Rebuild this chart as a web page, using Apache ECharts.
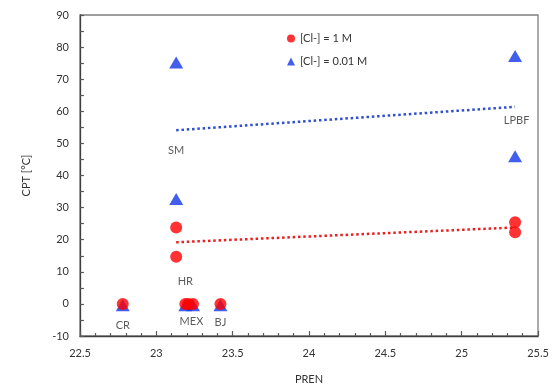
<!DOCTYPE html>
<html>
<head>
<meta charset="utf-8">
<script src="https://cdn.jsdelivr.net/npm/echarts@6/dist/echarts.min.js"></script>
<style>html,body{margin:0;padding:0;background:#fff}#c{width:553px;height:390px}</style>
</head>
<body>
<div id="c"></div>
<script>
// [Cl-] = 1 M (red circles)
const pren1M = [22.78, 23.13, 23.13, 23.19, 23.21, 23.24, 23.42, 25.35, 25.35];
const cpt1M  = [0, 23.8, 14.7, 0, 0, 0, 0, 25.4, 22.3];
// [Cl-] = 0.01 M (blue triangles)
const pren001M = [22.78, 23.13, 23.13, 23.19, 23.24, 23.42, 25.35, 25.35];
const cpt001M  = [-0.4, 75.2, 32.7, -0.4, -0.4, -0.4, 77.2, 46.0];
// trend lines (dotted)
const trend1MX = [23.13, 25.35];
const trend1MY = [19.2, 23.8];
const trend001MX = [23.13, 25.35];
const trend001MY = [54.1, 61.4];
// annotations
const labelNames = ['SM', 'HR', 'CR', 'MEX', 'BJ', 'LPBF'];
const labelX = [23.13, 23.19, 22.78, 23.23, 23.42, 25.36];
const labelY = [47.9, 6.9, -6.7, -5.4, -5.9, 57.2];
// axes
const xMin = 22.5, xMax = 25.5, xStep = 0.5;
const yMin = -10, yMax = 90, yStep = 10;

const FONT = 'Lato';
const TXT = '#333333';
const RED = '#FF0000';
const BLUE = '#1236E8';

const zip = (a, b) => a.map((v, i) => [v, b[i]]);

const chart = echarts.init(document.getElementById('c'));
chart.setOption({
  animation: false,
  textStyle: { fontFamily: FONT },
  grid: { left: 80, right: 15, top: 15, bottom: 50, show: true, borderColor: '#7f7f7f', borderWidth: 1.3 },
  legend: {
    orient: 'vertical', left: 282, top: 28, itemGap: 12,
    itemWidth: 8, itemHeight: 8,
    textStyle: { fontFamily: FONT, fontSize: 11, color: TXT },
    data: [
      { name: '[Cl-] = 1 M', icon: 'circle' },
      { name: '[Cl-] = 0.01 M', icon: 'triangle' }
    ]
  },
  xAxis: {
    type: 'value', min: xMin, max: xMax, interval: xStep,
    name: 'PREN', nameLocation: 'middle', nameGap: 38,
    nameTextStyle: { fontFamily: FONT, fontSize: 11, color: TXT },
    axisLine: { onZero: false, lineStyle: { color: '#404040', width: 1.3 } },
    axisTick: { inside: true, length: 5, lineStyle: { color: '#595959', width: 1.2 } },
    minorTick: { show: true, splitNumber: 5, length: 3, lineStyle: { color: '#595959', width: 1.2 } },
    splitLine: { show: false },
    axisLabel: { fontFamily: FONT, fontSize: 11, color: TXT, margin: 12 }
  },
  yAxis: {
    type: 'value', min: yMin, max: yMax, interval: yStep,
    name: 'CPT [°C]', nameLocation: 'middle', nameGap: 48, nameRotate: 90,
    nameTextStyle: { fontFamily: FONT, fontSize: 11, color: TXT },
    axisLine: { show: true, onZero: false, lineStyle: { color: '#404040', width: 1.3 } },
    axisTick: { show: true, inside: true, length: 4, lineStyle: { color: '#595959', width: 1.2 } },
    minorTick: { show: true, splitNumber: 2, length: 4, lineStyle: { color: '#595959', width: 1.2 } },
    splitLine: { show: false },
    axisLabel: { fontFamily: FONT, fontSize: 11, color: TXT, margin: 11 }
  },
  series: [
    {
      type: 'line', data: zip(trend001MX, trend001MY), symbol: 'none', silent: true,
      lineStyle: { color: '#2E4FD0', width: 2.5, type: [2.5, 2.8] }, z: 1
    },
    {
      type: 'line', data: zip(trend1MX, trend1MY), symbol: 'none', silent: true,
      lineStyle: { color: '#E82020', width: 2.5, type: [2.5, 2.8] }, z: 1
    },
    {
      name: '[Cl-] = 0.01 M', type: 'scatter', symbol: 'triangle', symbolSize: [14, 12],
      itemStyle: { color: BLUE }, data: zip(pren001M, cpt001M), z: 2
    },
    {
      name: '[Cl-] = 1 M', type: 'scatter', symbol: 'circle', symbolSize: 12,
      itemStyle: { color: RED }, data: zip(pren1M, cpt1M), z: 3
    },
    {
      type: 'scatter', symbolSize: 0, silent: true, z: 4,
      data: labelNames.map((n, i) => ({ value: [labelX[i], labelY[i]], name: n })),
      label: { show: true, position: 'inside', formatter: p => p.name,
        fontFamily: FONT, fontSize: 11, color: TXT }
    }
  ]
});
</script>
</body>
</html>
